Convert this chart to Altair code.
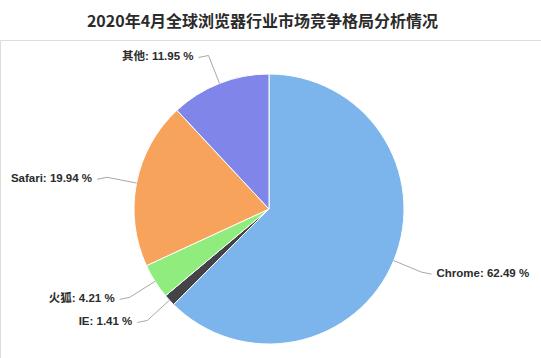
import altair as alt
import pandas as pd

# Browser market share, April 2020
browsers = ["Chrome", "IE", "火狐", "Safari", "其他"]
shares = [62.49, 1.41, 4.21, 19.94, 11.95]
colors = ["#7cb5ec", "#434348", "#90ed7d", "#f7a35c", "#8085e9"]

df = pd.DataFrame({"browser": browsers, "share": shares, "rank": list(range(len(browsers)))})

# Pie geometry in view pixels
CX, CY, R = 269, 169, 135
OUT = 30      # connector length beyond the rim
TAIL = 10     # horizontal end of the connector
GAP = 15      # label offset from the connector elbow

LABEL_FONT = "Liberation Sans, Noto Sans CJK SC"

base = (
    alt.Chart(df)
    .transform_window(cum="sum(share)", sort=[{"field": "rank"}])
    .transform_joinaggregate(total="sum(share)")
    .transform_calculate(
        mid="(datum.cum - datum.share / 2) / datum.total * 2 * PI",
        side="sin(datum.mid) >= 0 ? 1 : -1",
        x0=f"{CX} + {R} * sin(datum.mid)",
        y0=f"{CY} - {R} * cos(datum.mid)",
        x1=f"{CX} + {R + OUT} * sin(datum.mid)",
        y1=f"{CY} - {R + OUT} * cos(datum.mid)",
        x2=f"datum.x1 + datum.side * {TAIL}",
        y2="datum.y1 + 2",
        lx=f"datum.x1 + datum.side * {GAP}",
        ly="datum.y1 + 2",
        label="datum.browser + ': ' + format(datum.share, '.2f') + ' %'",
    )
)

pie = base.mark_arc(outerRadius=R, stroke="white", strokeWidth=1).encode(
    theta=alt.Theta("share:Q", stack=True),
    color=alt.Color("browser:N", scale=alt.Scale(domain=browsers, range=colors), legend=None),
    order=alt.Order("rank:Q"),
    x=alt.value(CX),
    y=alt.value(CY),
)

conn_a = base.mark_rule(color="#a8a8a8", strokeWidth=1).encode(
    x=alt.X("x0:Q", scale=None),
    y=alt.Y("y0:Q", scale=None),
    x2="x1:Q",
    y2="y1:Q",
)
conn_b = base.mark_rule(color="#a8a8a8", strokeWidth=1).encode(
    x=alt.X("x1:Q", scale=None),
    y=alt.Y("y1:Q", scale=None),
    x2="x2:Q",
    y2="y2:Q",
)

text_style = dict(fontSize=11.5, fontWeight="bold", font=LABEL_FONT, color="#2b2b2b", baseline="middle")

labels_right = base.transform_filter("datum.side > 0").mark_text(align="left", **text_style).encode(
    x=alt.X("lx:Q", scale=None), y=alt.Y("ly:Q", scale=None), text="label:N"
)
labels_left = base.transform_filter("datum.side < 0").mark_text(align="right", **text_style).encode(
    x=alt.X("lx:Q", scale=None), y=alt.Y("ly:Q", scale=None), text="label:N"
)

chart = (
    alt.layer(pie, conn_a, conn_b, labels_right, labels_left)
    .properties(
        width=541,
        height=318,
        autosize=alt.AutoSizeParams(type="none"),
        padding={"left": 0, "right": 0, "top": 40, "bottom": 0},
        title=alt.TitleParams(
            "2020年4月全球浏览器行业市场竞争格局分析情况",
            fontSize=16,
            fontWeight="bold",
            font="Noto Sans CJK SC",
            color="#2b2b2b",
            anchor="middle",
            offset=10,
            dx=-8,
        ),
    )
    .configure_view(stroke=None)
    .configure(background="white")
)

chart.save("out.html", embed_options={"renderer": "svg", "actions": False})
